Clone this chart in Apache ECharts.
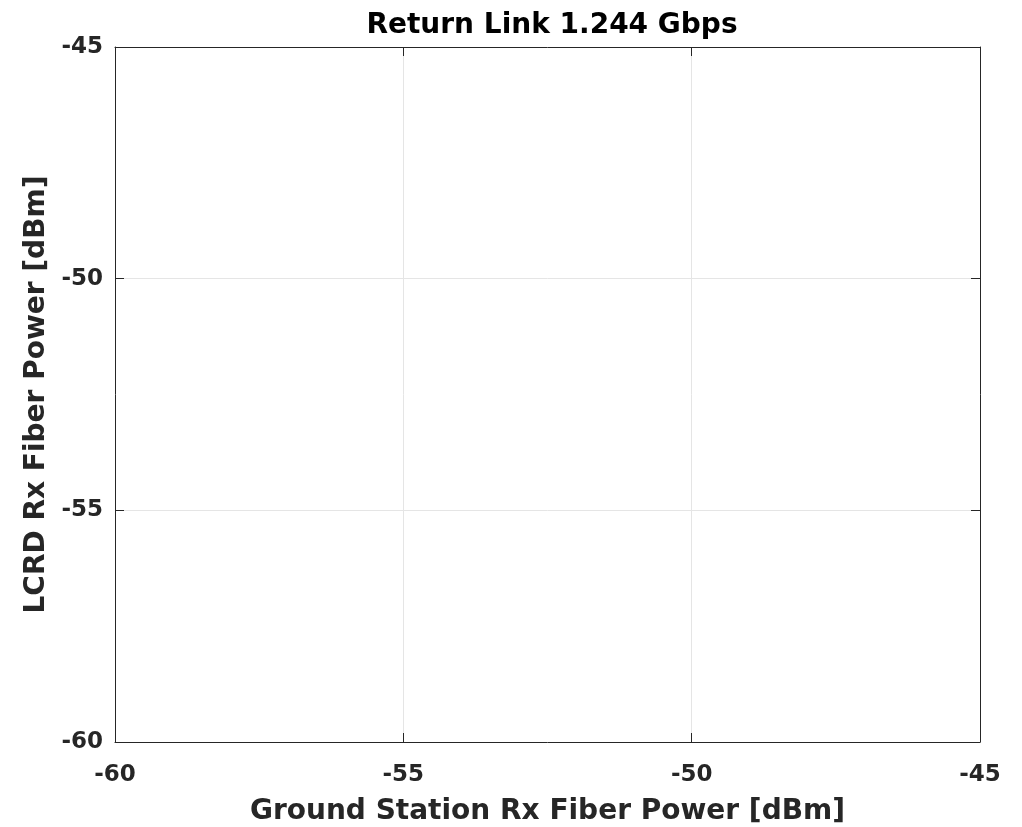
<!DOCTYPE html>
<html>
<head>
<meta charset="utf-8">
<script src="https://cdn.jsdelivr.net/npm/echarts@6/dist/echarts.min.js"></script>
<style>html,body{margin:0;padding:0;background:#fff}#c{width:1022px;height:827px}</style>
</head>
<body>
<div id="c"></div>
<script>
const titleText = 'Return Link 1.244 Gbps';
const xName = 'Ground Station Rx Fiber Power [dBm]';
const yName = 'LCRD Rx Fiber Power [dBm]';
const xRange = [-60, -45];
const yRange = [-60, -45];
const tickStep = 5;
const seriesPoints = []; // no data points shown in reference

const chart = echarts.init(document.getElementById('c'), null, {renderer: 'canvas'});
const font = 'DejaVu Sans, Liberation Sans, Arial, sans-serif';
const axisCol = '#262626';
function mkAxis(pos, range, name, isMain){
  return {
    type: 'value', position: pos, min: range[0], max: range[1], interval: tickStep,
    name: isMain ? name : '', nameLocation: 'middle',
    nameGap: (pos==='bottom') ? 56 : 59,
    nameTextStyle: {fontFamily: font, fontWeight: 'bold', fontSize: 28, color: axisCol},
    axisLine: {show: true, onZero: false, lineStyle: {color: axisCol, width: 1}},
    axisTick: {show: true, inside: true, length: 9, lineStyle: {color: axisCol, width: 1}},
    axisLabel: {show: isMain, margin: (pos==='bottom') ? 22 : 12, fontFamily: font, fontWeight: 'bold', fontSize: 23, color: axisCol},
    splitLine: {show: isMain, lineStyle: {color: '#e5e5e5', width: 1}}
  };
}
chart.setOption({
  animation: false,
  backgroundColor: '#fff',
  title: {text: titleText, left: 547, textAlign: 'center', top: 7,
    textStyle: {fontFamily: font, fontWeight: 'bold', fontSize: 28, color: '#000'}},
  grid: {left: 115, right: 42, top: 47, bottom: 85, containLabel: false, outerBoundsMode: 'none'},
  xAxis: [mkAxis('bottom', xRange, xName, true), mkAxis('top', xRange, '', false)],
  yAxis: [mkAxis('left', yRange, yName, true), mkAxis('right', yRange, '', false)],
  series: [{type: 'scatter', xAxisIndex: 0, yAxisIndex: 0, data: seriesPoints}]
});
</script>
</body>
</html>
